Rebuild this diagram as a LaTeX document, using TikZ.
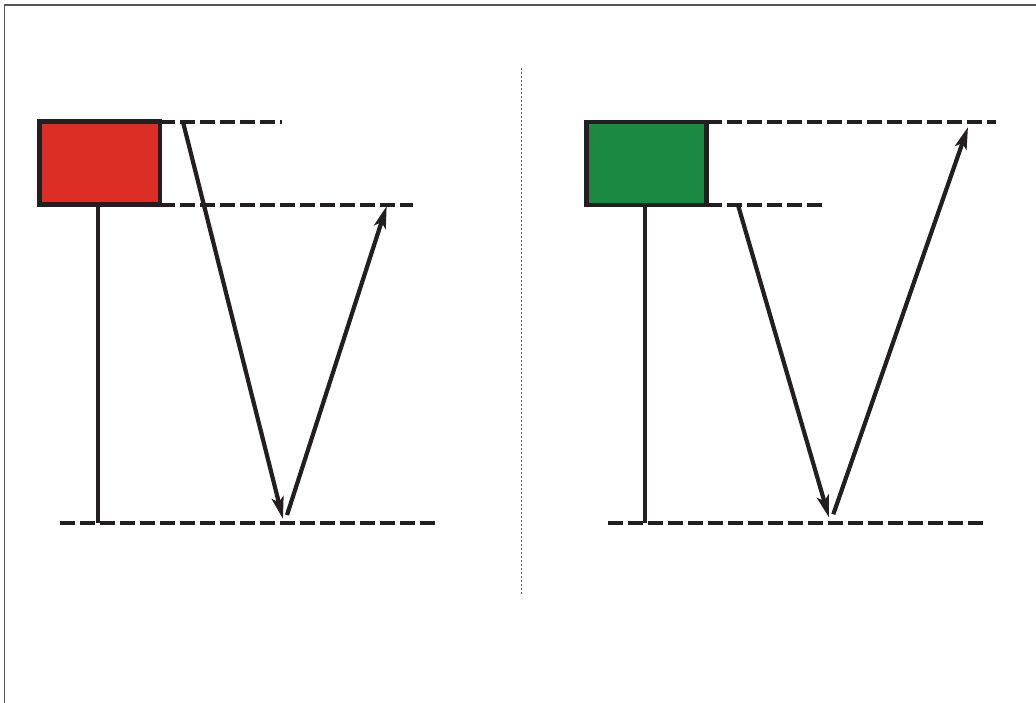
\documentclass[tikz,border=0pt]{standalone}
\usetikzlibrary{arrows.meta}
\definecolor{ink}{HTML}{231F20}
\definecolor{boxred}{HTML}{DC2E25}
\definecolor{boxgreen}{HTML}{1C8943}
\definecolor{framegray}{HTML}{555555}
\tikzset{
  level/.style={ink, line width=4.5pt, dash pattern=on 15pt off 5pt},
  stem/.style={ink, line width=4.5pt},
  ray/.style={ink, line width=4.2pt, -{Stealth[length=22pt, width=12pt, inset=5pt]}},
  bar/.style={draw=ink, line width=4.8pt, minimum width=120.5pt, minimum height=83pt, inner sep=0pt, outer sep=0pt},
  divider/.style={framegray, line width=1pt, dash pattern=on 2pt off 2pt},
  frame/.style={framegray, line width=1.6pt}
}
\begin{document}
\begin{tikzpicture}[x=1pt,y=-1pt]
\useasboundingbox (0,0) rectangle (1036,703);
\fill[white] (0,0) rectangle (1036,703);
% frame (left and top edges visible)
\coordinate (fbl) at (4.5,710);
\coordinate (ftl) at (4.5,5);
\coordinate (ftr) at (1040,5);
\draw[frame] (fbl) -- (ftl) -- (ftr);
% divider
\coordinate (dtop) at (521,68);
\coordinate (dbot) at (521,595);
\draw[divider] (dtop) -- (dbot);

% ---- left panel ----
\node[bar, fill=boxred] (rbox) at (99.75,163.3) {};
\coordinate (rstemtop) at (98,205);
\coordinate (rstembot) at (98,523);
\coordinate (rtopend) at (282,122);
\coordinate (rmidend) at (413,205);
\coordinate (rbotstart) at (60,523);
\coordinate (rbotend) at (436,523);
\draw[level] (rbox.north east) -- (rbox.north east -| rtopend);
\draw[level] (rbox.south east) -- (rbox.south east -| rmidend);
\draw[level] (rbotstart) -- (rbotend);
\draw[stem] (rstemtop) -- (rstembot);
\coordinate (ra1) at (183,122);
\coordinate (ra1tip) at (283,519);
\coordinate (ra2) at (287,515);
\coordinate (ra2tip) at (386.7,206);
\draw[ray] (ra1) -- (ra1tip);
\draw[ray] (ra2) -- (ra2tip);

% ---- right panel ----
\node[bar, fill=boxgreen] (gbox) at (646.6,163.5) {};
\coordinate (gstemtop) at (645,205);
\coordinate (gstembot) at (645,523);
\coordinate (gtopend) at (996,122);
\coordinate (gmidend) at (826,205);
\coordinate (gbotstart) at (608,523);
\coordinate (gbotend) at (983,523);
\draw[level] (gbox.north east) -- (gbox.north east -| gtopend);
\draw[level] (gbox.south east) -- (gbox.south east -| gmidend);
\draw[level] (gbotstart) -- (gbotend);
\draw[stem] (gstemtop) -- (gstembot);
\coordinate (ga1) at (738,205);
\coordinate (ga1tip) at (829,517.5);
\coordinate (ga2) at (833.3,514.3);
\coordinate (ga2tip) at (968,127);
\draw[ray] (ga1) -- (ga1tip);
\draw[ray] (ga2) -- (ga2tip);
\end{tikzpicture}
\end{document}
